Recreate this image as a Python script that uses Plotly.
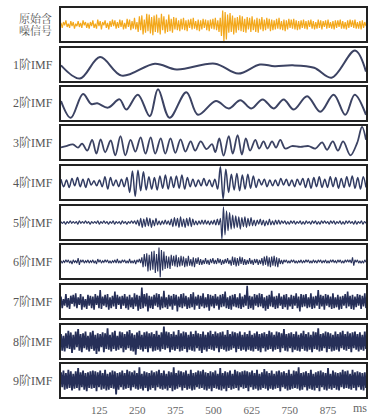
import numpy as np
import plotly.graph_objects as go

# ---------------- data (units: panel half-height = 20) ----------------
panel_labels = ["原始含噪信号", "1阶IMF", "2阶IMF", "3阶IMF", "4阶IMF", "5阶IMF",
                "6阶IMF", "7阶IMF", "8阶IMF", "9阶IMF"]
tick_values = [125, 250, 375, 500, 625, 750, 875]
tick_labels = ["125", "250", "375", "500", "625", "750", "875"]
time_unit = "ms"
t_end = 1000

raw_signal = [
    2,-4,3,-1,5,-3,1,-4,4,-2,3,-5,1,-2,4,-3,2,-4,5,-1,3,-4,2,-5,3,
    -2,5,-4,1,-5,6,-2,4,-6,3,-1,5,-4,2,-6,4,-3,6,-2,5,-5,3,-4,6,-3,
    5,-6,2,-5,7,-3,6,-7,4,-5,8,-6,3,-9,10,-7,11,-12,6,-10,13,-8,12,-11,9,
    -13,11,-9,12,-10,8,-12,13,-7,10,-11,6,-9,12,-8,7,-10,9,-6,8,-7,5,-8,7,-6,
    8,-7,5,-8,6,-4,7,-6,8,-5,4,-7,6,-8,5,-6,7,-4,6,-7,5,-8,6,-5,7,
    -6,8,-7,5,-9,8,-14,17,-20,15,-18,12,-10,14,-9,11,-12,8,-10,9,-7,11,-8,10,-9,
    7,-10,9,-6,8,-9,10,-7,6,-9,8,-10,7,-6,9,-8,6,-7,8,-5,7,-8,6,-7,5,
    -6,7,-5,8,-6,4,-7,6,-8,5,-6,7,-4,6,-5,7,-6,5,-7,4,-6,5,-4,6,-5,
    4,-6,5,-3,6,-5,4,-6,3,-5,6,-4,5,-6,4,-3,5,-5,6,-4,3,-5,4,-6,5,
    -4,5,-3,6,-5,4,-5,3,-6,5,-4,6,-3,5,-4,6,-5,3,-5,4,-6,5,-4,3,-2,
]

imf1_t = [0, 62, 128, 199, 308, 379, 505, 581, 652, 700, 760, 830, 887, 964, 1000]
imf1_v = [-1, -17, 9, -13.5, 1, -6, 1, -11, 0, -2, -1, -4, -16, 17, -8.6]

imf2_t = [0, 32, 72, 99, 119, 154, 192, 214, 252, 291, 318, 356, 411, 449, 508,
          550, 588, 624, 661, 697, 730, 763, 807, 850, 894, 932, 963, 1000]
imf2_v = [3, -17.4, 11.5, -0.6, 0.2, -5, 5, -7.3, 10.7, -15.5, 17.4, -17.4, 13.7, -13.7, 3,
          -6, 4, -6, 5, -6, 5, -7.3, 8.8, -10, 10.7, -13.7, 10.7, -13.7]

imf3_t = [0, 17, 39, 56, 69, 86, 102, 116, 130, 145, 163, 178, 195, 211, 228, 244, 261,
          277, 294, 309, 327, 342, 359, 375, 392, 408, 425, 440, 458, 477, 495,
          506, 519, 533, 550, 563, 579, 593, 606, 620, 637, 650, 664, 677, 692, 705,
          719, 735, 757, 785, 812, 834, 856, 872, 891, 908, 925, 949, 971, 987, 1000]
imf3_v = [-6, -4.3, -2.4, -6.2, -1.3, -9.9, 3.2, -13.6, 3.9, -11.8, 2.4, -15.5, 7.7, -15.5, 3.2, -11, 6.2,
          -13.6, 6.2, -13.6, 5, -13.6, 5, -12.5, 3.9, -11, 1.3, -9.9, 1.3, -8, -2,
          -11.7, 5, -16, 7.7, -13.6, 8.8, -14.8, 5, -9.9, 3.2, -7.3, 1.3, -7.3, 1.3, -6.2,
          3.2, -7.3, -4.3, -5.4, -4.3, -7.3, 0.2, -8.8, 1.3, -9.9, 1.3, -15.5, -0.5, 18.9, 3.2]

imf4 = [
    4,-5,3,-6,5,-4,6,-5,4,-6,5,
    -3,2,-4,3,-5,7,-8,6,-4,3,-5,
    4,-5,6,-12,14,-17,15,
    -10,13,-9,7,-8,6,-9,
    8,-7,9,-8,7,-6,8,-7,9,-8,6,
    -5,4,-5,3,-4,5,-4,3,-5,4,
    -8,19,-20,16,-12,10,-9,
    11,-10,9,-8,10,-7,8,-6,
    4,-3,4,-5,3,-4,3,-4,5,-3,4,-4,3,-5,4,-3,5,
    -6,5,-7,6,-5,7,-6,4,-6,7,-5,6,-7,5,-6,7,-5,8,-7,6,-8,7,-6,
]

imf5 = [
    1,-1,1,-2,1,-1,2,-1,1,-1,1,-2,2,-1,1,-1,2,-1,1,-2,1,-1,1,-1,2,-2,1,-1,2,-1,
    1,-2,1,-1,2,-2,1,-1,1,-2,2,-1,1,-2,1,-1,2,-1,2,-2,
    3,-4,5,-6,4,-5,6,-4,5,-6,3,-4,5,-3,
    2,-3,2,-2,3,-2,2,-3,
    4,-5,6,-4,5,-6,7,-5,4,-6,5,-4,6,-5,4,-3,
    2,-3,2,-2,3,-2,3,-2,2,-3,2,-2,3,-3,4,-3,
    5,-20,19,-15,14,-10,12,-8,
    9,-7,8,-6,7,-8,6,-5,7,-6,5,-4,6,-4,
    3,-4,3,-2,4,-3,3,-4,2,-3,4,-3,2,-3,3,-2,3,-2,
    2,-1,2,-2,1,-2,2,-1,2,-2,1,-1,2,-2,1,-2,2,-1,1,-2,2,-1,2,-2,1,-2,2,-1,2,-1,
    1,-2,2,-1,2,-2,1,-1,2,-2,1,-2,2,-1,2,-1,1,-2,2,-2,1,-1,2,-2,1,-1,
]

imf6 = [
    1,-2,1,-1,2,-1,2,-2,1,-3,2,-1,1,-2,4,-4,2,-1,2,-2,1,-1,2,-2,1,
    -1,2,-2,1,-3,3,-1,2,-2,1,-1,2,-1,2,-2,1,-2,1,-1,2,-2,3,-2,1,-2,
    2,-1,2,-2,1,-2,3,-2,1,-2,2,-3,2,-1,3,-2,5,-7,9,-6,10,-12,8,-11,12,
    -10,13,-14,9,-12,17,-19,14,-11,12,-9,7,-8,6,-9,8,-5,7,-6,8,-7,5,-6,7,-5,
    6,-7,4,-6,7,-5,3,-6,5,-7,4,-3,5,-4,3,-4,2,-3,4,-3,2,-4,3,-2,4,
    -3,2,-3,4,-2,3,-4,2,-3,3,-2,4,-3,2,-5,6,-4,5,-6,4,-5,6,-3,5,-4,
    3,-4,2,-3,4,-3,2,-4,3,-2,3,-4,2,-3,4,-5,6,-4,7,-6,5,-7,6,-5,7,
    -6,5,-7,4,-3,2,-3,2,-1,2,-2,1,-2,2,-1,2,-2,1,-2,1,-1,2,-2,1,-1,
    2,-1,2,-2,1,-2,2,-1,1,-2,2,-1,2,-2,1,-1,2,-2,1,-2,2,-1,2,-1,1,
    -2,2,-1,2,-2,1,-2,2,-1,2,-1,2,-2,5,-5,2,-1,2,-2,1,-2,1,-2,2,-1,
]

imf7 = [
    6,-8,3,-5,9,-7,4,-9,7,-3,8,-6,10,-8,5,-4,9,-10,6,-7,3,-9,8,-5,7,
    -8,6,-10,9,-4,7,-8,14,-9,6,-5,8,-7,9,-10,5,-8,7,-6,12,-9,8,-4,6,-9,
    7,-5,9,-8,6,-10,8,-7,5,-9,10,-6,8,-11,7,-9,17,-8,9,-6,10,-12,7,-8,6,
    -9,8,-5,10,-7,9,-10,6,-8,13,-7,5,-9,8,-6,7,-10,9,-5,8,-12,6,-7,9,-8,
    10,-6,7,-9,5,-8,9,-7,11,-10,6,-5,8,-9,7,-6,10,-8,5,-7,9,-11,8,-6,7,
    -8,9,-5,6,-10,8,-7,9,-6,12,-8,5,-9,7,-10,8,-6,9,-7,5,-8,10,-9,6,-7,
    8,-5,19,-9,7,-8,6,-10,9,-5,8,-7,10,-6,9,-8,5,-11,7,-9,8,-6,13,-7,6,
    -9,7,-8,10,-5,6,-9,8,-7,9,-10,5,-6,8,-9,7,-5,10,-8,6,-12,9,-7,8,-6,
    9,-8,5,-7,10,-9,6,-8,7,-5,14,-9,8,-6,7,-10,9,-5,8,-7,6,-9,10,-8,5,
    -7,8,-10,6,-9,7,-5,9,-8,12,-6,7,-9,8,-10,6,-7,9,-5,8,-9,7,-6,10,-8,
]

imf8 = [
    9,-11,7,-12,10,-8,13,-9,11,-14,8,-10,12,-7,15,-11,9,-13,10,-8,12,-10,7,-12,11,
    -9,13,-11,8,-15,10,-12,9,-7,11,-13,10,-9,16,-10,8,-12,11,-9,13,-11,7,-10,12,-8,
    11,-13,9,-10,12,-8,14,-11,10,-12,8,-16,11,-9,13,-10,8,-12,11,-9,12,-13,10,-8,11,
    -12,9,-11,13,-10,8,-12,11,-9,18,-10,12,-8,11,-13,9,-10,12,-11,8,-9,14,-12,10,-11,
    12,-9,11,-13,8,-10,12,-11,9,-12,13,-8,10,-11,9,-14,12,-10,8,-12,11,-9,13,-10,9,
    -11,12,-8,10,-13,11,-9,12,-10,8,-12,14,-11,9,-10,12,-8,11,-13,10,-9,12,-11,8,-10,
    11,-12,9,-10,13,-11,8,-12,10,-9,12,-11,9,-13,10,-8,11,-12,9,-10,13,-9,11,-12,8,
    -10,12,-9,11,-13,10,-8,15,-11,9,-12,10,-8,11,-13,9,-10,12,-11,8,-12,10,-9,13,-11,
    9,-12,11,-10,8,-13,12,-9,11,-10,16,-12,9,-11,10,-8,12,-13,11,-9,10,-12,8,-11,12,
    -10,9,-12,11,-8,13,-10,9,-11,12,-9,10,-13,11,-8,12,-10,9,-12,11,-10,8,-11,12,-9,
]

imf9 = [
    10,-8,12,-11,9,-10,13,-9,11,-12,8,-10,11,-9,15,-12,10,-8,12,-11,9,-13,10,-9,11,
    -10,12,-9,11,-13,10,-8,12,-11,9,-10,13,-12,8,-11,10,-9,12,-10,11,-17,9,-11,10,-8,
    12,-11,9,-10,13,-9,11,-12,10,-8,12,-10,9,-11,16,-10,8,-12,11,-9,10,-13,9,-11,12,
    -9,10,-12,11,-8,13,-10,9,-11,12,-10,8,-12,11,-9,10,-13,16,-11,9,-10,12,-8,11,-12,
    10,-9,12,-11,8,-10,13,-12,9,-11,10,-8,12,-10,11,-9,13,-11,10,-12,9,-10,11,-13,10,
    -9,12,-10,8,-11,15,-12,9,-10,11,-13,10,-9,12,-11,8,-10,13,-9,11,-12,10,-8,11,-10,
    12,-9,11,-13,10,-8,12,-11,9,-10,13,-12,8,-11,10,-9,14,-10,11,-12,9,-10,12,-11,8,
    -10,11,-9,12,-13,10,-8,11,-10,9,-12,13,-11,8,-10,12,-9,11,-10,16,-12,9,-11,10,-8,
    11,-12,9,-10,13,-11,8,-12,10,-9,11,-13,12,-8,10,-11,9,-12,15,-10,8,-11,12,-9,10,
    -11,9,-12,10,-8,13,-10,11,-9,12,-10,8,-11,13,-9,10,-12,11,-8,10,-11,9,-12,10,-9,
]

# ---------------- figure ----------------
W, H = 379, 418
ML, MR, MT, MB = 61, 13, 7, 20
PH = H - MT - MB
panel_tops = [7, 47, 86, 125, 165, 205, 244, 284, 324, 363]
panel_h = 35

def grid(vals):
    n = len(vals)
    return [i * t_end / (n - 1) for i in range(n)]

series = [
    (grid(raw_signal), raw_signal, "#F3A81C", 1.2, "linear"),
    (imf1_t, imf1_v, "#3C4363", 2.0, "spline"),
    (imf2_t, imf2_v, "#3C4363", 2.0, "spline"),
    (imf3_t, imf3_v, "#3C4363", 1.8, "spline"),
    (grid(imf4), imf4, "#323C62", 1.5, "spline"),
    (grid(imf5), imf5, "#2E3860", 1.2, "spline"),
    (grid(imf6), imf6, "#2A335C", 1.1, "linear"),
    (grid(imf7), imf7, "#262F58", 1.6, "linear"),
    (grid(imf8), imf8, "#262F58", 1.8, "linear"),
    (grid(imf9), imf9, "#262F58", 1.8, "linear"),
]

fig = go.Figure()
layout = dict(
    width=W, height=H, margin=dict(l=ML, r=MR, t=MT, b=MB),
    paper_bgcolor="white", plot_bgcolor="white", showlegend=False,
)
annotations = []
serif = "Liberation Serif, Noto Serif CJK SC, Noto Sans CJK SC, serif"

for i, (xs, ys, col, lw, shape) in enumerate(series):
    k = "" if i == 0 else str(i + 1)
    fig.add_trace(go.Scatter(x=xs, y=ys, mode="lines", xaxis="x" + k, yaxis="y" + k,
                             line=dict(color=col, width=lw, shape=shape,
                                       smoothing=1.0 if shape == "spline" else None),
                             hoverinfo="skip"))
    top = panel_tops[i] + 1
    bot = panel_tops[i] + panel_h - 1
    y0 = 1 - (bot - MT) / PH
    y1 = 1 - (top - MT) / PH
    last = (i == len(series) - 1)
    layout["xaxis" + k] = dict(
        domain=[0, 1], anchor="y" + k, range=[0, t_end], showgrid=False, zeroline=False,
        showline=True, mirror=True, linecolor="#222", linewidth=1.5, ticks="",
        tickvals=tick_values, ticktext=tick_labels, showticklabels=last,
        ticklabelstandoff=2, automargin=False,
        tickfont=dict(family=serif, size=11, color="#666"),
        **({} if i == 0 else {"matches": "x"}),
    )
    layout["yaxis" + k] = dict(
        domain=[max(0, y0), min(1, y1)], anchor="x" + k, range=[-20, 20], showgrid=False,
        zeroline=False, showline=True, mirror=True, linecolor="#222", linewidth=1.5,
        ticks="", showticklabels=False, automargin=False,
    )
    yc = (y0 + y1) / 2
    if i == 0:
        annotations.append(dict(text=panel_labels[0][:3], xref="paper", yref="paper",
                                x=(54 - ML) / (W - ML - MR), y=1 - (18 - MT) / PH,
                                xanchor="right", yanchor="middle", showarrow=False,
                                font=dict(family=serif, size=11, color="#555")))
        annotations.append(dict(text=panel_labels[0][3:], xref="paper", yref="paper",
                                x=(54 - ML) / (W - ML - MR), y=1 - (30 - MT) / PH,
                                xanchor="right", yanchor="middle", showarrow=False,
                                font=dict(family=serif, size=11, color="#555")))
    else:
        annotations.append(dict(text=panel_labels[i], xref="paper", yref="paper",
                                x=(55 - ML) / (W - ML - MR), y=yc,
                                xanchor="right", yanchor="middle", showarrow=False,
                                font=dict(family=serif, size=12, color="#555")))

annotations.append(dict(text=time_unit, xref="paper", yref="paper",
                        x=(360 - ML) / (W - ML - MR), y=-(399 - (H - MB)) / PH,
                        xanchor="center", yanchor="top", showarrow=False,
                        font=dict(family=serif, size=12, color="#666")))
layout["annotations"] = annotations
fig.update_layout(**layout)
fig.write_html("out.html", config={"displayModeBar": False},
               post_script="document.body.style.margin='0px';")
